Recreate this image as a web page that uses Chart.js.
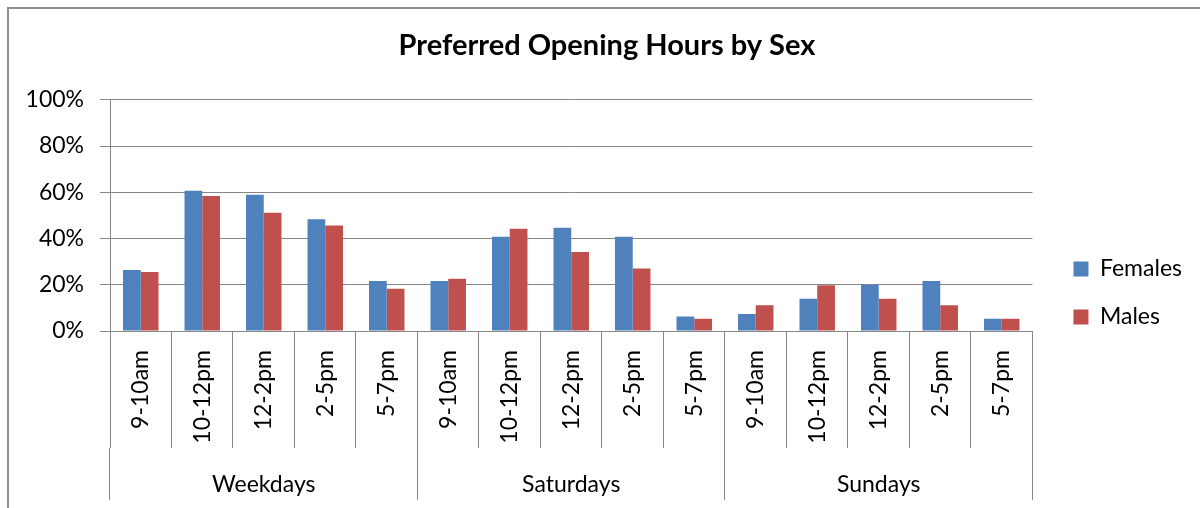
<!DOCTYPE html>
<html>
<head>
<meta charset="utf-8">
<script src="https://cdn.jsdelivr.net/npm/chart.js@4"></script>
<style>
  html, body { margin: 0; padding: 0; background: #fff; }
  #frame { position: absolute; left: 7px; top: 7px; width: 1300px; height: 600px;
           border-top: 2px solid #8f8f8f; border-left: 2px solid #8f8f8f; }
  #chart { position: absolute; left: 0; top: 0; }
</style>
</head>
<body>
<div id="frame"></div>
<canvas id="chart" width="1200" height="508"></canvas>
<script>
const timeSlots = ['9-10am', '10-12pm', '12-2pm', '2-5pm', '5-7pm'];
const dayGroups = ['Weekdays', 'Saturdays', 'Sundays'];
const females = [26.4, 60.7, 58.9, 48.3, 21.6, 21.6, 40.8, 44.7, 40.8, 6.3, 7.4, 14.0, 20.0, 21.6, 5.3];
const males = [25.5, 58.4, 51.2, 45.6, 18.3, 22.6, 44.2, 34.2, 27.0, 5.3, 11.1, 19.8, 14.0, 11.1, 5.3];
const yTicks = [0, 20, 40, 60, 80, 100];

const labels = dayGroups.flatMap(() => timeSlots);
const axisGrey = '#868686';
const fontFamily = 'Lato, "Open Sans", sans-serif';

// nudges the legend down so it sits centred like in the original
const legendShift = {
  id: 'legendShift',
  afterLayout(chart) {
    const lg = chart.legend;
    const dy = 293 - (lg.top + lg.bottom) / 2;
    lg.top += dy;
    lg.bottom += dy;
  }
};

new Chart(document.getElementById('chart'), {
  type: 'bar',
  data: {
    labels: labels,
    datasets: [
      { label: 'Females', data: females, backgroundColor: '#4F81BD' },
      { label: 'Males', data: males, backgroundColor: '#C0504D' }
    ]
  },
  options: {
    responsive: false,
    animation: false,
    datasets: { bar: { categoryPercentage: 0.577, barPercentage: 1 } },
    layout: { padding: { left: 22, right: 8, top: 0, bottom: 0 } },
    plugins: {
      title: {
        display: true,
        text: 'Preferred Opening Hours by Sex',
        color: '#000',
        font: { family: fontFamily, size: 29, weight: 'bold' },
        padding: { top: 28, bottom: 37 }
      },
      legend: {
        position: 'right',
        labels: {
          color: '#000',
          font: { family: fontFamily, size: 23 },
          boxWidth: 15,
          boxHeight: 15,
          padding: 25
        }
      },
      tooltip: { enabled: false }
    },
    scales: {
      x: {
        position: 'bottom',
        grid: { display: true, drawOnChartArea: false, offset: true, color: axisGrey, tickLength: 117 },
        border: { display: true, color: axisGrey },
        ticks: { autoSkip: false, minRotation: 90, maxRotation: 90, padding: -98, color: '#000',
                 font: { family: fontFamily, size: 23 } },
        afterFit(s) { s.height = 117; }
      },
      x2: {
        type: 'category',
        position: 'bottom',
        labels: dayGroups,
        offset: true,
        grid: { display: true, drawOnChartArea: false, offset: true, color: axisGrey, tickLength: 52 },
        border: { display: false },
        ticks: { padding: -29, color: '#000', font: { family: fontFamily, size: 23 } },
        afterFit(s) { s.height = 60; }
      },
      y: {
        min: 0,
        max: 100,
        afterBuildTicks(s) { s.ticks = yTicks.map(v => ({ value: v })); },
        grid: { color: axisGrey, tickLength: 10 },
        border: { display: true, color: axisGrey },
        ticks: { padding: 16, color: '#000', font: { family: fontFamily, size: 23 },
                 callback: v => v + '%' },
        afterFit(s) { s.width = 88; }
      },
      spacer: {
        type: 'linear',
        position: 'right',
        display: true,
        grid: { display: false },
        border: { display: false },
        ticks: { display: false },
        afterFit(s) { s.width = 16; }
      }
    }
  },
  plugins: [legendShift]
});
</script>
</body>
</html>
